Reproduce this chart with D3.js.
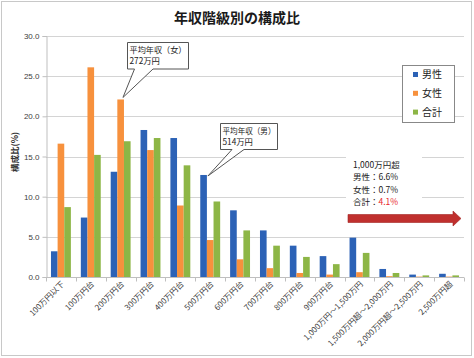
<!DOCTYPE html>
<html><head><meta charset="utf-8">
<script src="https://cdn.jsdelivr.net/npm/d3@7"></script>
<style>
html,body{margin:0;padding:0;background:#fff;}
svg{display:block;font-family:"Noto Sans CJK JP","Noto Sans",sans-serif;}
</style></head>
<body><svg id="c" width="474" height="358"></svg>
<script>
const categories = ["100万円以下","100万円台","200万円台","300万円台","400万円台","500万円台","600万円台","700万円台","800万円台","900万円台","1,000万円～1,500万円","1,500万円超～2,000万円","2,000万円超～2,500万円","2,500万円超"];
const seriesNames = ["男性","女性","合計"];
const male   = [3.2, 7.4, 13.1, 18.3, 17.3, 12.7, 8.3, 5.8, 3.9, 2.6, 4.9, 1.0, 0.3, 0.4];
const female = [16.6, 26.1, 22.1, 15.8, 8.9, 4.6, 2.2, 1.1, 0.5, 0.3, 0.6, 0.1, 0.05, 0.05];
const total  = [8.7, 15.2, 16.9, 17.3, 13.9, 9.4, 5.8, 3.9, 2.5, 1.6, 3.0, 0.5, 0.2, 0.2];
const yTicks = [0, 5, 10, 15, 20, 25, 30];
const colors = ["#2c62b6", "#f7913d", "#8db646"];

const svg = d3.select("#c");
const L = 46, R = 464, T = 36, B = 277;

// outer frame
svg.append("rect").attr("x",1.5).attr("y",1.5).attr("width",470).attr("height",354)
  .attr("fill","#fff").attr("stroke","#c8c8c8").attr("stroke-width",1);

const y = d3.scaleLinear().domain([0,30]).range([B,T]);
const x = d3.scaleBand().domain(categories).range([L,R]).paddingInner(0).paddingOuter(0);
const bw = x.bandwidth();
const xs = d3.scaleBand().domain(seriesNames).range([bw*0.75/4.5, bw*3.75/4.5]);

// gridlines
svg.append("g").selectAll("line").data(yTicks.filter(d=>d>0)).join("line")
  .attr("x1",L).attr("x2",R).attr("y1",d=>Math.round(y(d))+0.5).attr("y2",d=>Math.round(y(d))+0.5)
  .attr("stroke","#d4d4d4").attr("stroke-width",1);

// y axis
const yAxis = d3.axisLeft(y).tickValues(yTicks).tickFormat(d3.format(".1f")).tickSize(4);
const gy = svg.append("g").attr("transform",`translate(${L+0.5},0)`).call(yAxis);
gy.select(".domain").attr("stroke","#bfbfbf");
gy.selectAll(".tick line").attr("stroke","#bfbfbf");
gy.selectAll("text").attr("font-size",8).attr("fill","#404040").attr("font-family","Arial, 'Liberation Sans', sans-serif");

// bars
const data = categories.map((c,i)=>({c, vals:[male[i],female[i],total[i]]}));
const groups = svg.append("g").selectAll("g").data(data).join("g")
  .attr("transform",d=>`translate(${x(d.c)},0)`);
groups.selectAll("rect").data(d=>d.vals.map((v,j)=>({v,s:seriesNames[j],j}))).join("rect")
  .attr("x",d=>xs(d.s)).attr("width",xs.bandwidth())
  .attr("y",d=>y(d.v)).attr("height",d=>B-y(d.v))
  .attr("fill",d=>colors[d.j]);

// x axis
const gx = svg.append("g").attr("transform",`translate(0,${B+0.5})`);
gx.append("line").attr("x1",L).attr("x2",R).attr("stroke","#bfbfbf");
gx.selectAll("line.t").data(d3.range(categories.length+1)).join("line").attr("class","t")
  .attr("x1",i=>Math.round(L+i*bw)+0.5).attr("x2",i=>Math.round(L+i*bw)+0.5)
  .attr("y1",0).attr("y2",4).attr("stroke","#bfbfbf");
gx.selectAll("text").data(categories).join("text")
  .attr("transform",d=>`translate(${x(d)+bw/2+4},${7}) rotate(-45)`)
  .attr("text-anchor","end").attr("font-size",8).attr("fill","#404040")
  .text(d=>d);

// y title
svg.append("text").attr("transform","translate(18,152) rotate(-90)")
  .attr("text-anchor","middle").attr("font-size",8.5).attr("font-weight","bold").attr("fill","#333")
  .text("構成比(%)");

// title
svg.append("text").attr("x",237).attr("y",23).attr("text-anchor","middle")
  .attr("font-size",14).attr("font-weight","bold").attr("fill","#1a1a1a").text("年収階級別の構成比");

// legend
const lg = svg.append("g");
lg.append("rect").attr("x",402.5).attr("y",65.5).attr("width",52).attr("height",57)
  .attr("fill","#fff").attr("stroke","#888");
seriesNames.forEach((s,i)=>{
  const cy = 74.5 + i*18.8;
  lg.append("rect").attr("x",413).attr("y",cy-2.5).attr("width",5).attr("height",5).attr("fill",colors[i]);
  lg.append("text").attr("x",422).attr("y",cy+3.6).attr("font-size",10).attr("fill","#222").text(s);
});

// callouts
function callout(bx,by,bw2,bh,p1,p2,tip,lines){
  const g = svg.append("g");
  const path = `M${bx},${by} H${bx+bw2} V${by+bh} H${p2} L${tip[0]},${tip[1]} L${p1},${by+bh} H${bx} Z`;
  g.append("path").attr("d",path).attr("fill","#fff").attr("stroke","#555").attr("stroke-width",1);
  lines.forEach((t,i)=>{
    const tx = g.append("text").attr("x",bx+2).attr("y",by+10+i*11)
      .attr("font-size",8.3).attr("fill","#222").text(t);
    if(i===0) tx.attr("textLength",bw2-4).attr("lengthAdjust","spacingAndGlyphs");
  });
}
const fIdx = 2, mIdx = 5;
callout(127.5,42.5,61,26.5,134.5,153,[x(categories[fIdx])+xs("女性")+xs.bandwidth()-1, y(female[fIdx])-2],["平均年収（女）","272万円"]);
callout(220.5,123.5,57,26,232,244,[x(categories[mIdx])+xs("男性")+xs.bandwidth()+1, y(male[mIdx])+1],["平均年収（男）","514万円"]);

// text box for >1000
const tb = svg.append("g");
tb.append("rect").attr("x",346).attr("y",155).attr("width",76).attr("height",52).attr("fill","#fff");
const tl = [["1,000万円超",""],["男性：","6.6%"],["女性：","0.7%"],["合計：","4.1%"]];
tl.forEach((d,i)=>{
  const t = tb.append("text").attr("x",353).attr("y",167.5+i*12.5).attr("font-size",8.5).attr("fill","#222");
  t.append("tspan").text(d[0]);
  if(d[1]) t.append("tspan").attr("fill", i===3?"#e8262a":"#222").text(d[1]);
});

// red arrow
svg.append("path")
  .attr("d","M348,214.5 H453 V211 L461,218.5 L453,226 V222.5 H348 Z")
  .attr("fill","#c0302e").attr("stroke","#a22422").attr("stroke-width",0.6);
</script></body></html>
